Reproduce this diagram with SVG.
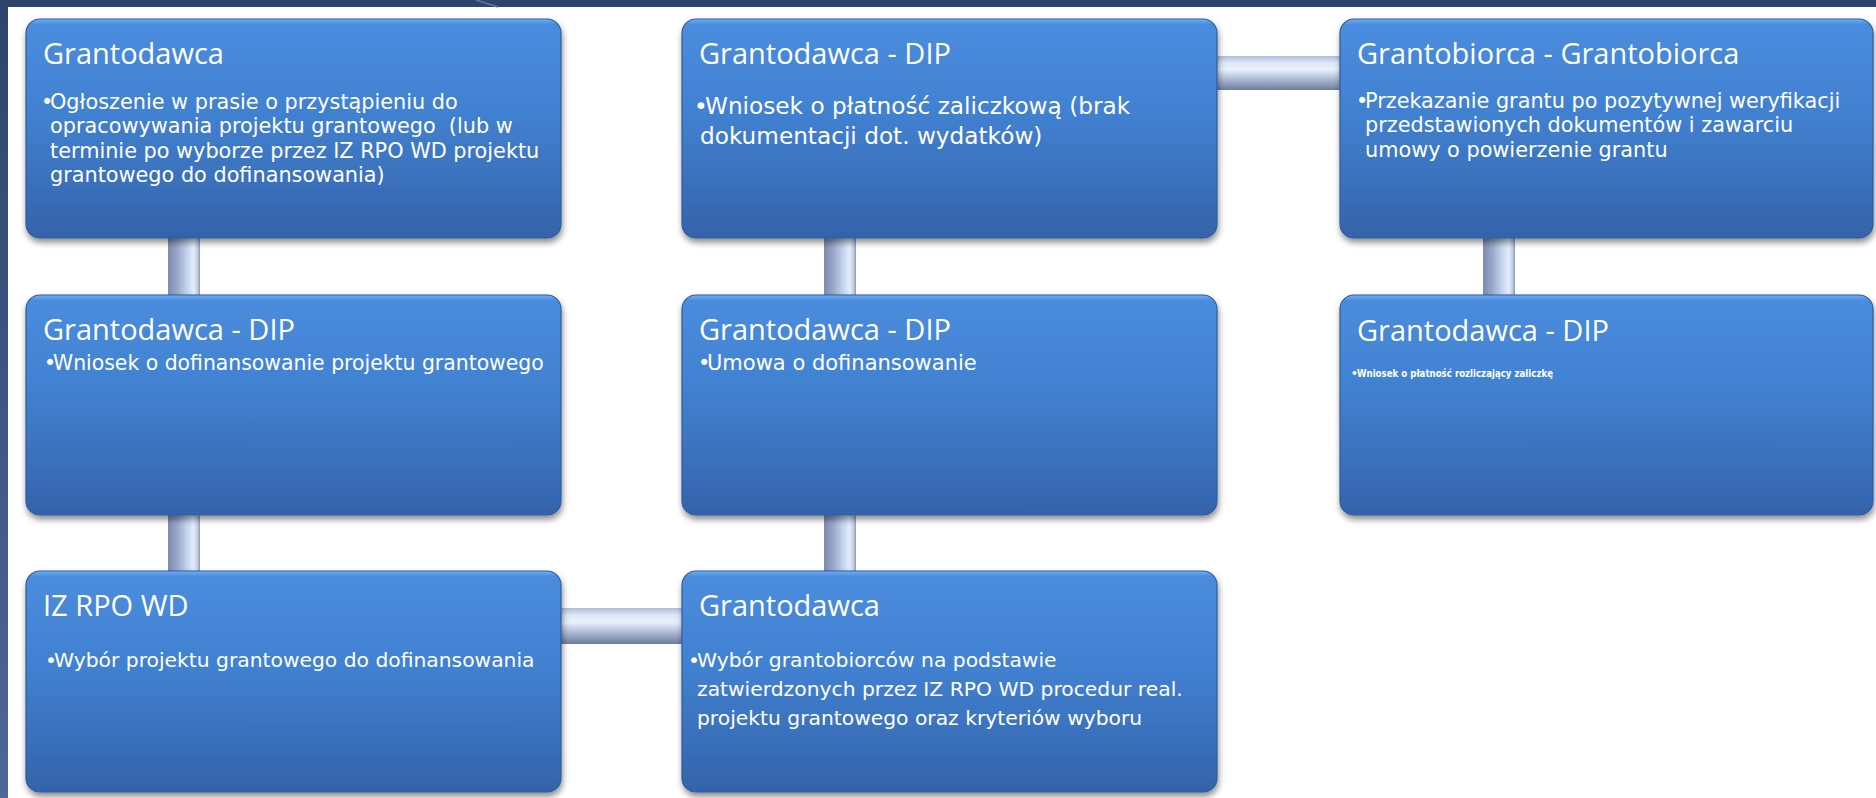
<svg xmlns="http://www.w3.org/2000/svg" width="1876" height="798" viewBox="0 0 1876 798">
<defs>
<linearGradient id="boxFill" x1="0" y1="0" x2="0" y2="1">
<stop offset="0" stop-color="#72aef4"/>
<stop offset="0.025" stop-color="#4a8cdd"/>
<stop offset="0.45" stop-color="#4180d0"/>
<stop offset="1" stop-color="#3463aa"/>
</linearGradient>
<linearGradient id="pipeV" x1="0" y1="0" x2="1" y2="0">
<stop offset="0" stop-color="#7d8cae"/>
<stop offset="0.3" stop-color="#9aa9cb"/>
<stop offset="0.6" stop-color="#c6d4ee"/>
<stop offset="0.8" stop-color="#e4edfb"/>
<stop offset="0.92" stop-color="#c0cde6"/>
<stop offset="1" stop-color="#8a99ba"/>
</linearGradient>
<linearGradient id="pipeH" x1="0" y1="0" x2="0" y2="1">
<stop offset="0" stop-color="#aebcdb"/>
<stop offset="0.2" stop-color="#dfe8f8"/>
<stop offset="0.4" stop-color="#e9f0fc"/>
<stop offset="0.7" stop-color="#a9b6d2"/>
<stop offset="1" stop-color="#6e7c9c"/>
</linearGradient>
<linearGradient id="leftBand" x1="0" y1="0" x2="0" y2="1">
<stop offset="0" stop-color="#2e446c"/>
<stop offset="1" stop-color="#4d6798"/>
</linearGradient>
<filter id="shadow" x="-5%" y="-5%" width="110%" height="115%">
<feDropShadow dx="1" dy="4" stdDeviation="3" flood-color="#000" flood-opacity="0.45"/>
</filter>
<style>
.box{fill:url(#boxFill);stroke:#2f5c9e;stroke-width:1.2;filter:url(#shadow)}
text{fill:#ffffff}
.t{font-family:"Open Sans","Noto Sans",sans-serif;font-size:29px}
.b{font-family:"DejaVu Sans","Open Sans",sans-serif;font-size:20.8px}
.d{font-family:"DejaVu Sans","Open Sans",sans-serif;font-size:20.4px}
.e{font-family:"DejaVu Sans","Open Sans",sans-serif;font-size:21px}
.g{font-family:"DejaVu Sans","Open Sans",sans-serif;font-size:20.3px}
.bb{font-family:"DejaVu Sans","Open Sans",sans-serif;font-size:23.2px}
.s{font-family:"DejaVu Sans","Open Sans",sans-serif;font-size:11px;font-weight:bold}
</style>
</defs>
<rect x="0" y="0" width="1876" height="798" fill="#ffffff"/>
<rect x="0" y="0" width="1876" height="7" fill="#2e446c"/>
<rect x="0" y="0" width="8" height="798" fill="url(#leftBand)"/>
<line x1="476" y1="0" x2="498" y2="7" stroke="#5d75a3" stroke-width="1.5"/>

<g id="connectors">
<rect x="168" y="225" width="32" height="85" fill="url(#pipeV)"/>
<rect x="168" y="505" width="32" height="80" fill="url(#pipeV)"/>
<rect x="824" y="225" width="32" height="85" fill="url(#pipeV)"/>
<rect x="824" y="505" width="32" height="80" fill="url(#pipeV)"/>
<rect x="1483" y="225" width="32" height="85" fill="url(#pipeV)"/>
<rect x="1200" y="56" width="160" height="34" fill="url(#pipeH)"/>
<rect x="545" y="608" width="150" height="36" fill="url(#pipeH)"/>
</g>

<g id="node-grantodawca-1">
<rect class="box" x="26" y="19" width="535" height="219" rx="14"/>
<text xml:space="preserve"><tspan class="t" x="43" y="64">Grantodawca</tspan><tspan class="b" x="41" y="109">•</tspan><tspan class="b" x="50" y="109">Ogłoszenie w prasie o przystąpieniu do</tspan><tspan class="b" x="50" y="133.3">opracowywania projektu grantowego  (lub w</tspan><tspan class="b" x="50" y="157.6">terminie po wyborze przez IZ RPO WD projektu</tspan><tspan class="b" x="50" y="181.9">grantowego do dofinansowania)</tspan></text>
</g>

<g id="node-dip-zaliczka">
<rect class="box" x="682" y="19" width="535" height="219" rx="14"/>
<text><tspan class="t" x="699" y="64">Grantodawca - DIP</tspan><tspan class="bb" x="694" y="114">•</tspan><tspan class="bb" x="705" y="114">Wniosek o płatność zaliczkową (brak</tspan><tspan class="bb" x="700" y="144">dokumentacji dot. wydatków)</tspan></text>
</g>

<g id="node-grantobiorca">
<rect class="box" x="1340" y="19" width="533" height="219" rx="14"/>
<text><tspan class="t" x="1357" y="64">Grantobiorca - Grantobiorca</tspan><tspan class="b" x="1356" y="108">•</tspan><tspan class="b" x="1365" y="108">Przekazanie grantu po pozytywnej weryfikacji</tspan><tspan class="b" x="1365" y="132.3">przedstawionych dokumentów i zawarciu</tspan><tspan class="b" x="1365" y="156.6">umowy o powierzenie grantu</tspan></text>
</g>

<g id="node-dip-wniosek">
<rect class="box" x="26" y="295" width="535" height="220" rx="14"/>
<text><tspan class="t" x="43" y="340">Grantodawca - DIP</tspan><tspan class="d" x="44" y="370">•</tspan><tspan class="d" x="53" y="370">Wniosek o dofinansowanie projektu grantowego</tspan></text>
</g>

<g id="node-dip-umowa">
<rect class="box" x="682" y="295" width="535" height="220" rx="14"/>
<text><tspan class="t" x="699" y="340">Grantodawca - DIP</tspan><tspan class="e" x="698" y="370">•</tspan><tspan class="e" x="707" y="370">Umowa o dofinansowanie</tspan></text>
</g>

<g id="node-dip-rozliczenie">
<rect class="box" x="1340" y="295" width="533" height="220" rx="14"/>
<text><tspan class="t" x="1357" y="341">Grantodawca - DIP</tspan><tspan class="s" x="1351" y="377">•</tspan><tspan class="s" x="1357" y="377" textLength="196" lengthAdjust="spacingAndGlyphs">Wniosek o płatność rozliczający zaliczkę</tspan></text>
</g>

<g id="node-iz-rpo-wd">
<rect class="box" x="26" y="571" width="535" height="221" rx="14"/>
<text><tspan class="t" x="43" y="616">IZ RPO WD</tspan><tspan class="g" x="45" y="667">•</tspan><tspan class="g" x="54" y="667">Wybór projektu grantowego do dofinansowania</tspan></text>
</g>

<g id="node-grantodawca-wybor">
<rect class="box" x="682" y="571" width="535" height="221" rx="14"/>
<text><tspan class="t" x="699" y="616">Grantodawca</tspan><tspan class="g" x="688" y="667">•</tspan><tspan class="g" x="697" y="667">Wybór grantobiorców na podstawie</tspan><tspan class="g" x="697" y="696">zatwierdzonych przez IZ RPO WD procedur real.</tspan><tspan class="g" x="697" y="725">projektu grantowego oraz kryteriów wyboru</tspan></text>
</g>
</svg>
